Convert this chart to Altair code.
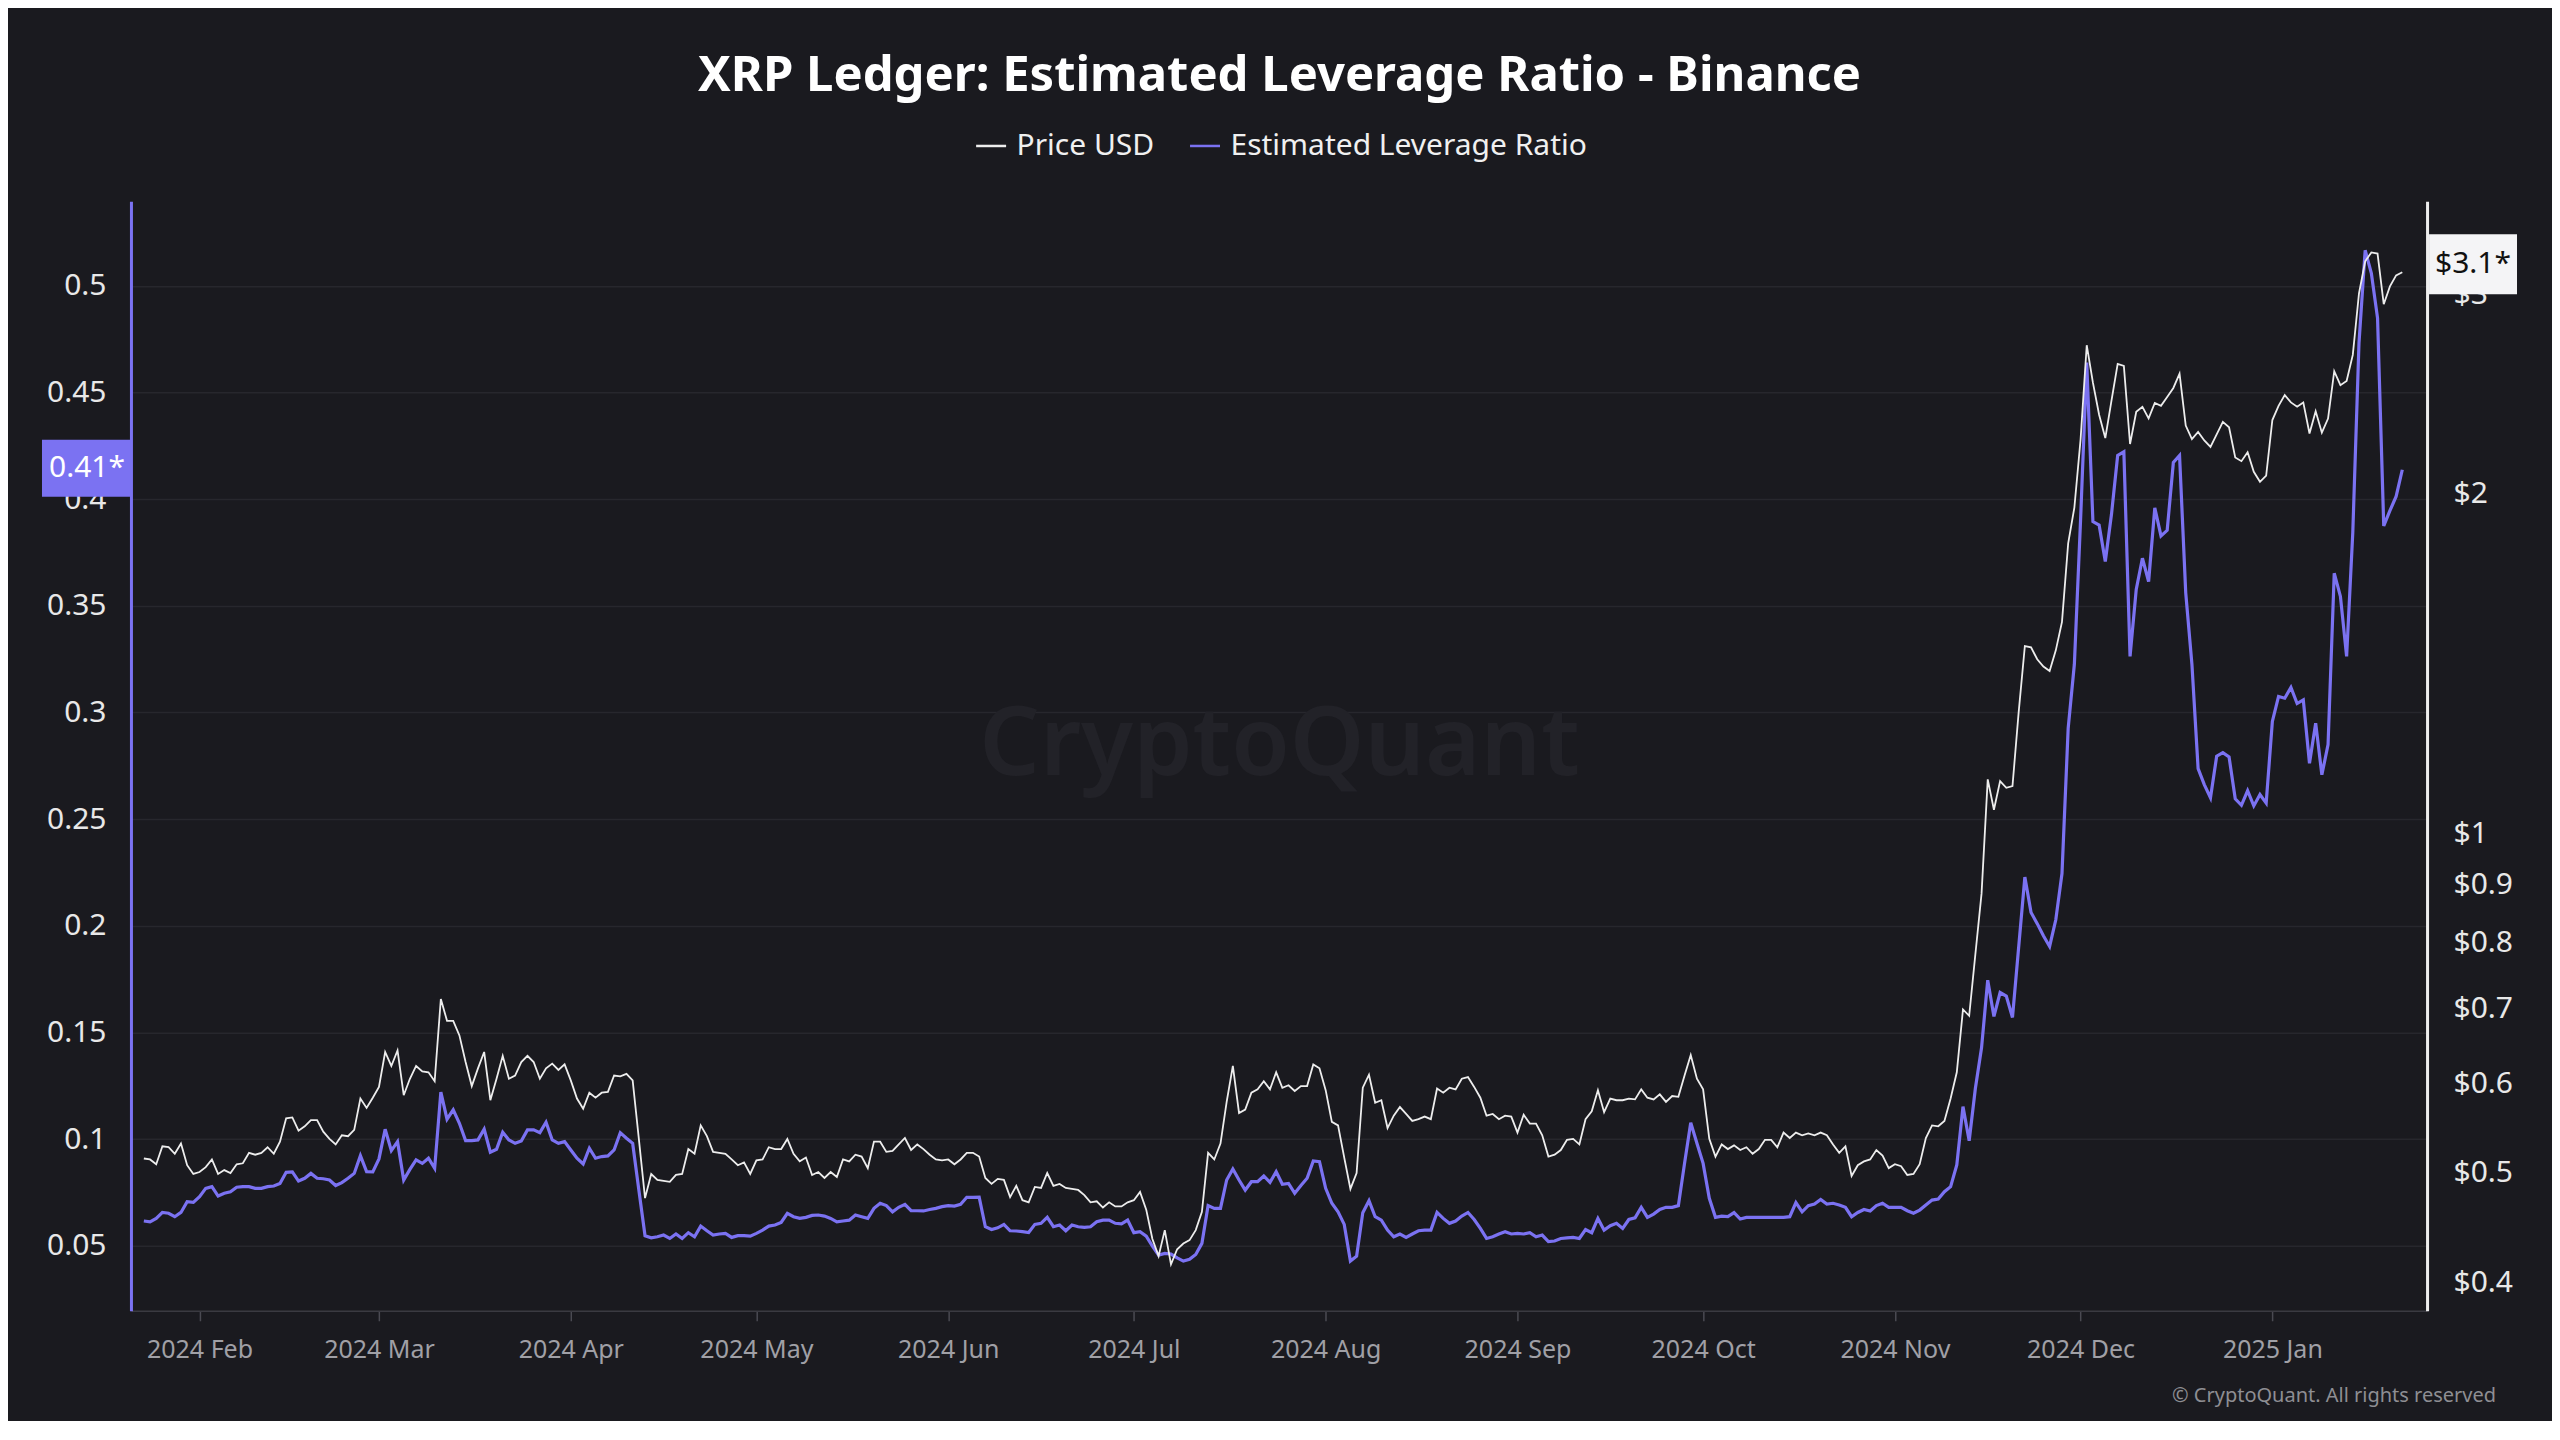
import altair as alt
import pandas as pd

# ---------------- data (daily) ----------------
start_date = "2024-01-23"

price = [
    0.515, 0.514, 0.509, 0.528, 0.527, 0.520, 0.531, 0.508, 0.499, 0.501,
    0.506, 0.514, 0.499, 0.503, 0.500, 0.509, 0.510, 0.521, 0.519, 0.521,
    0.527, 0.520, 0.533, 0.559, 0.560, 0.545, 0.550, 0.557, 0.557, 0.544,
    0.536, 0.530, 0.540, 0.539, 0.546, 0.582, 0.571, 0.583, 0.596, 0.640,
    0.622, 0.642, 0.586, 0.606, 0.622, 0.615, 0.614, 0.603, 0.713, 0.682,
    0.682, 0.662, 0.627, 0.597, 0.619, 0.640, 0.580, 0.606, 0.635, 0.606,
    0.610, 0.627, 0.635, 0.627, 0.606, 0.619, 0.625, 0.617, 0.624, 0.604,
    0.582, 0.570, 0.589, 0.583, 0.589, 0.590, 0.610, 0.609, 0.612, 0.604,
    0.536, 0.475, 0.499, 0.493, 0.492, 0.491, 0.498, 0.499, 0.525, 0.520,
    0.551, 0.539, 0.522, 0.521, 0.520, 0.514, 0.508, 0.511, 0.499, 0.513,
    0.514, 0.527, 0.525, 0.525, 0.536, 0.520, 0.512, 0.516, 0.498, 0.501,
    0.495, 0.501, 0.496, 0.514, 0.512, 0.519, 0.517, 0.505, 0.533, 0.533,
    0.522, 0.523, 0.530, 0.537, 0.524, 0.530, 0.525, 0.519, 0.514, 0.513,
    0.514, 0.509, 0.514, 0.521, 0.521, 0.517, 0.495, 0.489, 0.494, 0.493,
    0.476, 0.487, 0.473, 0.471, 0.486, 0.485, 0.500, 0.487, 0.489, 0.485,
    0.484, 0.483, 0.478, 0.471, 0.472, 0.466, 0.471, 0.467, 0.467, 0.471,
    0.473, 0.481, 0.464, 0.437, 0.422, 0.445, 0.415, 0.428, 0.433, 0.436,
    0.445, 0.462, 0.521, 0.514, 0.531, 0.578, 0.622, 0.565, 0.569, 0.589,
    0.593, 0.603, 0.593, 0.614, 0.595, 0.598, 0.591, 0.597, 0.597, 0.624,
    0.619, 0.592, 0.555, 0.551, 0.516, 0.484, 0.500, 0.595, 0.611, 0.577,
    0.580, 0.548, 0.562, 0.572, 0.564, 0.556, 0.558, 0.561, 0.558, 0.594,
    0.589, 0.595, 0.593, 0.606, 0.608, 0.596, 0.583, 0.562, 0.564, 0.558,
    0.562, 0.561, 0.543, 0.563, 0.553, 0.553, 0.540, 0.517, 0.519, 0.524,
    0.535, 0.536, 0.530, 0.558, 0.567, 0.592, 0.566, 0.582, 0.580, 0.580,
    0.582, 0.581, 0.593, 0.583, 0.581, 0.587, 0.578, 0.585, 0.584, 0.610,
    0.636, 0.606, 0.593, 0.536, 0.517, 0.530, 0.525, 0.529, 0.524, 0.527,
    0.520, 0.525, 0.535, 0.535, 0.527, 0.543, 0.537, 0.543, 0.540, 0.542,
    0.540, 0.543, 0.540, 0.530, 0.521, 0.528, 0.497, 0.508, 0.512, 0.514,
    0.524, 0.518, 0.505, 0.509, 0.507, 0.498, 0.499, 0.509, 0.537, 0.551,
    0.550, 0.556, 0.582, 0.614, 0.698, 0.689, 0.781, 0.884, 1.116, 1.049,
    1.112, 1.097, 1.101, 1.280, 1.465, 1.461, 1.426, 1.405, 1.392, 1.452,
    1.539, 1.806, 1.943, 2.231, 2.706, 2.507, 2.348, 2.239, 2.417, 2.605,
    2.594, 2.212, 2.362, 2.386, 2.331, 2.405, 2.391, 2.435, 2.480, 2.553,
    2.297, 2.234, 2.267, 2.228, 2.199, 2.256, 2.314, 2.289, 2.152, 2.136,
    2.175, 2.090, 2.048, 2.074, 2.323, 2.391, 2.444, 2.408, 2.387, 2.408,
    2.260, 2.365, 2.264, 2.330, 2.566, 2.494, 2.516, 2.653, 3.007, 3.211,
    3.270, 3.262, 2.942, 3.051, 3.120, 3.140,
]

elr = [
    0.0616, 0.0612, 0.0628, 0.0656, 0.0652, 0.0636, 0.0656, 0.0706, 0.0703, 0.0730,
    0.0769, 0.0777, 0.0733, 0.0746, 0.0753, 0.0774, 0.0777, 0.0777, 0.0769, 0.0769,
    0.0777, 0.0780, 0.0792, 0.0844, 0.0846, 0.0803, 0.0816, 0.0839, 0.0816, 0.0814,
    0.0808, 0.0782, 0.0796, 0.0816, 0.0839, 0.0922, 0.0847, 0.0846, 0.0907, 0.1046,
    0.0946, 0.0988, 0.0808, 0.0858, 0.0902, 0.0886, 0.0910, 0.0863, 0.1220, 0.1093,
    0.1137, 0.1074, 0.0993, 0.0993, 0.0996, 0.1046, 0.0938, 0.0952, 0.1032, 0.0996,
    0.0980, 0.0991, 0.1043, 0.1043, 0.1030, 0.1079, 0.0996, 0.0980, 0.0988, 0.0949,
    0.0910, 0.0883, 0.0957, 0.0910, 0.0918, 0.0921, 0.0949, 0.1030, 0.1004, 0.0980,
    0.0761, 0.0547, 0.0537, 0.0542, 0.0550, 0.0534, 0.0555, 0.0534, 0.0561, 0.0542,
    0.0592, 0.0570, 0.0550, 0.0555, 0.0558, 0.0539, 0.0547, 0.0547, 0.0545, 0.0558,
    0.0573, 0.0592, 0.0597, 0.0609, 0.0652, 0.0636, 0.0628, 0.0633, 0.0642, 0.0644,
    0.0639, 0.0628, 0.0612, 0.0616, 0.0620, 0.0644, 0.0636, 0.0628, 0.0675, 0.0699,
    0.0688, 0.0659, 0.0680, 0.0694, 0.0664, 0.0664, 0.0663, 0.0670, 0.0675, 0.0683,
    0.0688, 0.0686, 0.0694, 0.0727, 0.0727, 0.0728, 0.0589, 0.0576, 0.0584, 0.0600,
    0.0570, 0.0569, 0.0566, 0.0562, 0.0600, 0.0605, 0.0633, 0.0589, 0.0597, 0.0570,
    0.0597, 0.0589, 0.0586, 0.0589, 0.0612, 0.0620, 0.0620, 0.0605, 0.0602, 0.0620,
    0.0561, 0.0566, 0.0545, 0.0498, 0.0456, 0.0464, 0.0461, 0.0443, 0.0428, 0.0436,
    0.0459, 0.0511, 0.0688, 0.0675, 0.0675, 0.0808, 0.0860, 0.0808, 0.0761, 0.0800,
    0.0800, 0.0827, 0.0797, 0.0847, 0.0788, 0.0792, 0.0746, 0.0782, 0.0816, 0.0897,
    0.0894, 0.0769, 0.0699, 0.0659, 0.0600, 0.0428, 0.0451, 0.0655, 0.0711, 0.0636,
    0.0620, 0.0573, 0.0542, 0.0555, 0.0539, 0.0555, 0.0570, 0.0573, 0.0573, 0.0656,
    0.0628, 0.0605, 0.0616, 0.0639, 0.0656, 0.0623, 0.0581, 0.0534, 0.0542, 0.0555,
    0.0566, 0.0555, 0.0558, 0.0555, 0.0561, 0.0542, 0.0550, 0.0519, 0.0522, 0.0534,
    0.0537, 0.0539, 0.0534, 0.0576, 0.0561, 0.0628, 0.0573, 0.0594, 0.0605, 0.0581,
    0.0623, 0.0631, 0.0680, 0.0633, 0.0648, 0.0670, 0.0680, 0.0680, 0.0688, 0.0886,
    0.1077, 0.0980, 0.0886, 0.0722, 0.0633, 0.0639, 0.0636, 0.0655, 0.0625, 0.0633,
    0.0633, 0.0633, 0.0633, 0.0633, 0.0633, 0.0633, 0.0636, 0.0702, 0.0659, 0.0688,
    0.0695, 0.0717, 0.0695, 0.0699, 0.0691, 0.0680, 0.0636, 0.0656, 0.0670, 0.0663,
    0.0688, 0.0699, 0.0680, 0.0680, 0.0680, 0.0664, 0.0652, 0.0667, 0.0691, 0.0714,
    0.0719, 0.0753, 0.0777, 0.0879, 0.1152, 0.0992, 0.1237, 0.1428, 0.1745, 0.1575,
    0.1687, 0.1670, 0.1570, 0.1900, 0.2228, 0.2062, 0.2010, 0.1953, 0.1903, 0.2028,
    0.2245, 0.2925, 0.3226, 0.3900, 0.4640, 0.3895, 0.3879, 0.3708, 0.3929, 0.4205,
    0.4222, 0.3263, 0.3577, 0.3723, 0.3614, 0.3959, 0.3828, 0.3854, 0.4172, 0.4205,
    0.3561, 0.3226, 0.2737, 0.2662, 0.2600, 0.2795, 0.2812, 0.2792, 0.2595, 0.2565,
    0.2633, 0.2562, 0.2615, 0.2575, 0.2958, 0.3075, 0.3067, 0.3117, 0.3042, 0.3059,
    0.2762, 0.2950, 0.2708, 0.2849, 0.3653, 0.3544, 0.3263, 0.3845, 0.4732, 0.5167,
    0.5059, 0.4849, 0.3875, 0.3946, 0.4013, 0.4138,
]

series_names = ["Price USD", "Estimated Leverage Ratio"]
left_ticks = [0.05, 0.1, 0.15, 0.2, 0.25, 0.3, 0.35, 0.4, 0.45, 0.5]
right_ticks = [0.4, 0.5, 0.6, 0.7, 0.8, 0.9, 1, 2, 3]
month_ticks = [(2024, m) for m in range(2, 13)] + [(2025, 1)]

title_text = "XRP Ledger: Estimated Leverage Ratio - Binance"
watermark_text = "CryptoQuant"
copyright_text = "© CryptoQuant. All rights reserved"

# ---------------- styling ----------------
FONT = "Noto Sans"
BG = "#1a1a1f"
WHITE = "#ededed"
PURPLE = "#7b72f2"

dates = pd.date_range(start_date, periods=len(price), freq="D").strftime("%Y-%m-%dT00:00:00").tolist()
df = pd.DataFrame({"date": dates, "price": price, "elr": elr})
last = df.iloc[[-1]]

x_enc = alt.X(
    "date:T",
    title=None,
    scale=alt.Scale(domain=[alt.DateTime(year=2024, month=1, date=20, hours=22),
                            alt.DateTime(year=2025, month=1, date=26)]),
    axis=alt.Axis(
        values=[alt.DateTime(year=y, month=m, date=1) for y, m in month_ticks],
        format="%Y %b", grid=False, domainColor="#3a3a41", domainWidth=1.5,
        tickColor="#4a4a52", tickSize=10, tickWidth=1.5, labelPadding=17,
        labelFontSize=25, labelColor="#a0a0a6", labelFont=FONT,
    ),
)

color_enc = alt.Color(
    "series:N",
    scale=alt.Scale(domain=series_names, range=[WHITE, PURPLE]),
    legend=alt.Legend(
        title=None, orient="none", legendX=844, legendY=-72, direction="horizontal",
        symbolType="stroke", symbolSize=900, symbolStrokeWidth=2.5,
        labelFontSize=30, labelColor="#f0f0f0", labelFont=FONT, labelOffset=9,
        labelLimit=0, columnPadding=30, padding=0,
    ),
)

y_left = alt.Y(
    "elr:Q", title=None,
    scale=alt.Scale(domain=[0.0195, 0.5397], nice=False, zero=False),
    axis=alt.Axis(
        orient="left", values=left_ticks, format=".2~f", grid=True,
        gridColor="#27272d", gridWidth=1.5, domainColor=PURPLE, domainWidth=3,
        ticks=False, labelPadding=25, labelFontSize=30, labelColor="#e8e8e8",
        labelFont=FONT,
    ),
)

y_right = alt.Y(
    "price:Q", title=None,
    scale=alt.Scale(type="log", domain=[0.3775, 3.63], nice=False),
    axis=alt.Axis(
        orient="right", values=right_ticks, labelExpr="'$' + datum.value",
        grid=False, domainColor=WHITE, domainWidth=3, ticks=False,
        labelPadding=26, labelFontSize=30, labelColor="#e8e8e8", labelFont=FONT,
    ),
)

purple_line = alt.Chart(df).transform_calculate(
    series="'Estimated Leverage Ratio'"
).mark_line(strokeWidth=3.2).encode(x=x_enc, y=y_left, color=color_enc)

purple_box = alt.Chart(last).mark_rect(
    color=PURPLE, yOffset=-30, y2Offset=27
).encode(x=alt.value(-89), x2=alt.value(0), y=y_left, y2="elr:Q")

purple_label = alt.Chart(last).transform_calculate(
    label="format(datum.elr, '.2f') + '*'"
).mark_text(color="#ffffff", fontSize=30, font=FONT, align="center", baseline="middle", dy=-2).encode(
    x=alt.value(-44), y=y_left, text="label:N"
)

white_line = alt.Chart(df).transform_calculate(
    series="'Price USD'"
).mark_line(strokeWidth=1.8).encode(x=x_enc, y=y_right, color=color_enc)

white_box = alt.Chart(last).mark_rect(
    color="#f4f4f6", yOffset=-38, y2Offset=22
).encode(x=alt.value(2299), x2=alt.value(2387), y=y_right, y2="price:Q")

white_label = alt.Chart(last).transform_calculate(
    label="'$' + format(datum.price, '.1f') + '*'"
).mark_text(color="#111111", fontSize=30, font=FONT, align="center", baseline="middle", dy=-8).encode(
    x=alt.value(2343), y=y_right, text="label:N"
)

watermark = alt.Chart(pd.DataFrame({"t": [watermark_text]})).mark_text(
    fontSize=95, font=FONT, fontWeight=600, color="#222228", align="center", baseline="middle"
).encode(text="t:N", x=alt.value(1149), y=alt.value(545))

copyright_mark = alt.Chart(pd.DataFrame({"t": [copyright_text]})).mark_text(
    fontSize=20, font=FONT, color="#8e8e93", align="right", baseline="middle"
).encode(text="t:N", x=alt.value(2366), y=alt.value(1195))

title_mark = alt.Chart(pd.DataFrame({"t": [title_text]})).mark_text(
    fontSize=49, font=FONT, fontWeight="bold", color="#ffffff", align="center", baseline="middle"
).encode(text="t:N", x=alt.value(1149), y=alt.value(-125))

purple_group = alt.layer(purple_line, purple_box, purple_label)
white_group = alt.layer(white_line, white_box, white_label)

chart = alt.layer(
    watermark, purple_group, white_group, copyright_mark, title_mark
).resolve_scale(y="independent").properties(
    width=2297, height=1110,
    padding={"left": 123, "top": 193, "right": 125, "bottom": 110},
    autosize=alt.AutoSizeParams(type="none"),
    background=BG,
).configure_view(stroke=None)

chart.save("out.html", embed_options={"renderer": "svg", "actions": False})
